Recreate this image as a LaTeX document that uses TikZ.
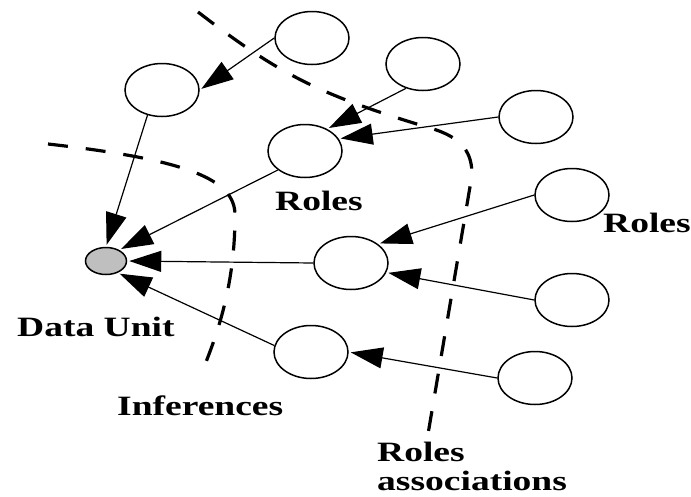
\documentclass[tikz,border=0pt]{standalone}
\usepackage{fontspec}
\setmainfont{Liberation Serif}[FakeStretch=1.34]
\usetikzlibrary{arrows.meta,shapes.geometric}
\begin{document}
\begin{tikzpicture}[x=1pt,y=-1pt,
		role/.style={draw,ellipse,line width=1.5pt,minimum width=74pt,minimum height=53pt,inner sep=0pt},
		unit/.style={draw,ellipse,line width=1.5pt,fill=lightgray,minimum width=41pt,minimum height=27pt,inner sep=0pt},
		link/.style={line width=1.2pt,-{Triangle[length=32pt,width=21pt]},shorten >=2pt},
		bound/.style={line width=3.2pt,dash pattern=on 20pt off 18pt},
		lbl/.style={font=\fontsize{28}{29}\selectfont\bfseries,inner sep=0pt,align=left}]
	\useasboundingbox (0,0) rectangle (691,496);
	% data unit and the roles next to it
	\node[unit] (data) at (106,261) {};
	\node[role] (inA) at (162,90) {};
	\node[role] (inB) at (305,151) {};
	\node[role] (inC) at (351,263) {};
	\node[role] (inD) at (311,352) {};
	% outer roles
	\node[role] (outA) at (312,38) {};
	\node[role] (outB) at (423,64) {};
	\node[role] (outC) at (536,117) {};
	\node[role] (outD) at (572,195) {};
	\node[role] (outE) at (572,300) {};
	\node[role] (outF) at (535,378) {};
	% links
	\draw[link] (outA.west) -- (inA.east);
	\draw[link] (inA.240) -- (data.north);
	\draw[link] (outB.235) -- (inB.45);
	\draw[link] (outC.west) -- (inB.20);
	\draw[link] (inB.215) -- (data.40);
	\draw[link] (outD.west) -- (inC.35);
	\draw[link] (inC.west) -- (data.east);
	\draw[link] (outE.west) -- (inC.-15);
	\draw[link] (inD.170) -- (data.-45);
	\draw[link] (outF.west) -- (inD.east);
	% boundaries
	\draw[bound] (48,144) .. controls (190,160) and (235,180) .. (235,215) .. controls (235,290) and (215,340) .. (200,377);
	\draw[bound] (198,12) .. controls (280,75) and (320,95) .. (430,128) .. controls (465,138) and (472,155) .. (472,175) -- (427,440);
	% labels
	\node[lbl,anchor=base west] (rolesIn) at (275,210) {Roles};
	\node[lbl,anchor=base west] (rolesOut) at (603,232) {Roles};
	\node[lbl,anchor=base west] (dataLbl) at (17,336) {Data Unit};
	\node[lbl,anchor=base west] (infLbl) at (117,415) {Inferences};
	\node[lbl,anchor=north west] (assocLbl) at (377,442) {Roles\\associations};
\end{tikzpicture}
\end{document}
